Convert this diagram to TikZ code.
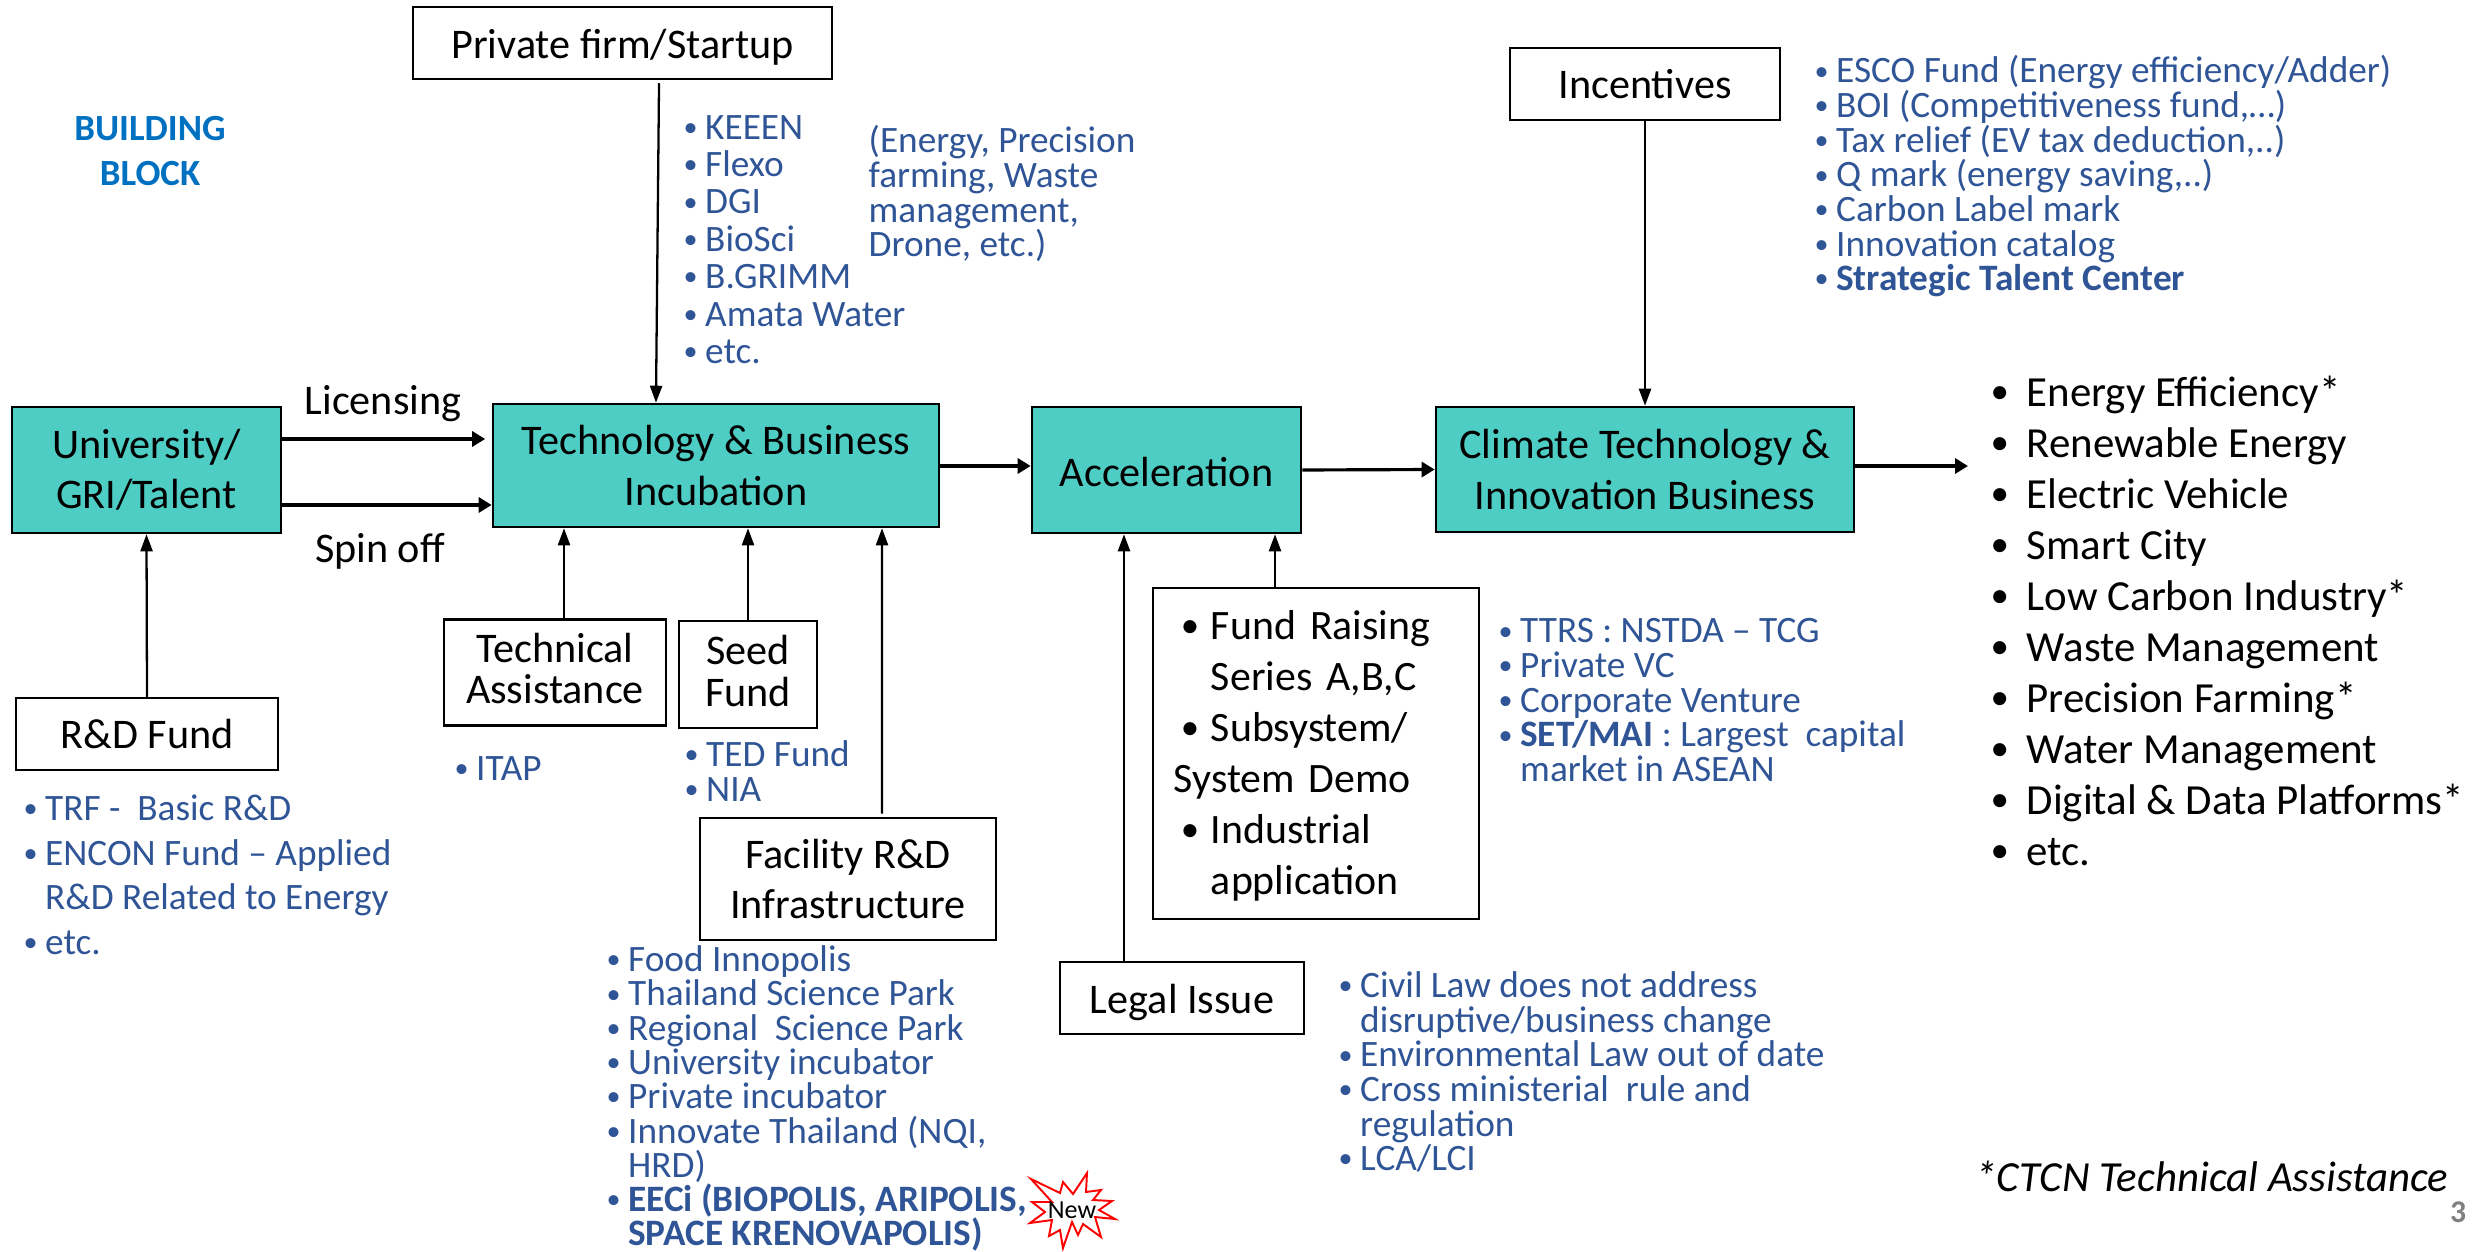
\documentclass[tikz,border=0pt]{standalone}
\usepackage{fontspec}
\setmainfont{Carlito}
\usetikzlibrary{arrows.meta}
\definecolor{ctteal}{RGB}{78,205,196}
\definecolor{ctblue}{RGB}{47,85,151}
\definecolor{cthead}{RGB}{0,112,192}
\newcommand{\itm}{\makebox[.215cm][l]{\raisebox{.8pt}{\fontsize{8}{8}\selectfont\textbullet}}}
\newcommand{\blkdot}{\raisebox{.7pt}{\fontsize{10.5}{10}\selectfont\textbullet}}
\newcommand{\blk}{\makebox[.36cm][l]{\blkdot}}
\newcommand{\fnd}{\hspace*{.07cm}\makebox[.3cm][l]{\blkdot}}
\tikzset{
  whitebox/.style={draw,line width=.7pt,align=center,inner sep=0pt,font=\fontsize{12}{14.3}\selectfont},
  tealbox/.style={whitebox,fill=ctteal},
  lowtext/.style={execute at begin node={\rule{0pt}{#1}}},
  bluelist/.style={anchor=north west,inner sep=0pt,align=left,text=ctblue,font=\fontsize{10.6}{9.85}\selectfont},
  blacklist/.style={anchor=north west,inner sep=0pt,align=left,font=\fontsize{12.2}{14.5}\selectfont},
  thinarr/.style={line width=.65pt,-{Triangle[length=.17cm,width=.12cm]}},
  thickarr/.style={line width=.9pt,-{Triangle[length=.13cm,width=.15cm]}},
}
\begin{document}
\begin{tikzpicture}[x=.01cm,y=-.01cm]
\useasboundingbox (0,0) rectangle (2476,1252);

% main row
\node[tealbox,lowtext=11.4pt,minimum width=2.69cm,minimum height=1.26cm] (uni) at (146.5,470) {University/\\GRI/Talent};
\node[tealbox,lowtext=10.4pt,minimum width=4.46cm,minimum height=1.23cm] (tbi) at (716,465.5) {Technology \& Business\\Incubation};
\node[tealbox,lowtext=9.7pt,minimum width=2.69cm,minimum height=1.26cm] (acc) at (1166.5,470) {Acceleration};
\node[tealbox,lowtext=10.4pt,minimum width=4.18cm,minimum height=1.25cm] (cli) at (1645,469.5) {Climate Technology \&\\Innovation Business};

% white boxes
\node[whitebox,lowtext=10.6pt,minimum width=4.19cm,minimum height=.72cm] (firm) at (622.5,43) {Private firm/Startup};
\node[whitebox,minimum width=2.7cm,minimum height=.72cm] (inc) at (1645,84) {Incentives};
\node[whitebox,minimum width=2.62cm,minimum height=.72cm] (rd) at (147,734) {R\&D Fund};
\node[whitebox,minimum width=2.22cm,minimum height=1.06cm,font=\fontsize{12}{11.7}\selectfont] (tech) at (555,672.5) {Technical\\Assistance\rule[-2.2pt]{0pt}{0pt}};
\node[whitebox,minimum width=1.38cm,minimum height=1.07cm,font=\fontsize{12}{11.8}\selectfont] (seed) at (748,674.5) {Seed\\Fund\rule[-2.2pt]{0pt}{0pt}};
\node[whitebox,lowtext=9.7pt,minimum width=2.96cm,minimum height=1.22cm] (fac) at (848,879) {Facility R\&D\\Infrastructure};
\node[whitebox,lowtext=10.6pt,minimum width=2.44cm,minimum height=.72cm] (legal) at (1182,998) {Legal Issue};
\node[whitebox,lowtext=9.7pt,minimum height=3.31cm,inner xsep=.21cm,text width=2.84cm,align=left,font=\fontsize{11.9}{14.5}\selectfont] (fund) at (1316,753.5) {%
\fnd Fund Raising\\
\hspace*{.37cm}Series A,B,C\\
\fnd Subsystem/\\
System Demo\\
\fnd Industrial\\
\hspace*{.37cm}application};

% arrows
\draw[thinarr] ([xshift=.365cm,yshift=-.03cm]firm.south) -- ([xshift=-.6cm]tbi.north);
\draw[thinarr] (inc.south) -- (cli.north);
\draw[thinarr] (rd.north) -- (uni.south);
\draw[thinarr] (tech.north -| 564,0) -- (tbi.south -| 564,0);
\draw[thinarr] (seed.north) -- (tbi.south -| seed.north);
\draw[thinarr] ([xshift=.34cm,yshift=.03cm]fac.north) -- (tbi.south -| 882,0);
\draw[thinarr] (legal.north -| 1124,0) -- (acc.south -| 1124,0);
\draw[thinarr] (fund.north -| 1275,0) -- (acc.south -| 1275,0);
\draw[thickarr] (uni.east |- 0,439) -- ([xshift=-.065cm]tbi.west |- 0,439);
\draw[thickarr] (uni.east |- 0,505) -- (tbi.west |- 0,505);
\draw[thickarr] (tbi.east |- 0,466) -- (acc.west |- 0,466);
\draw[thickarr] (acc.east) -- (cli.west);
\coordinate (out) at (1968,466);
\draw[thickarr] (cli.east |- out) -- (out);

% labels
\node[whitebox,draw=none,anchor=center] (lic) at (383,404) {Licensing};
\node[whitebox,draw=none,anchor=center] (spin) at (380,551) {Spin off};
\node[anchor=center,align=center,text=cthead,inner sep=0pt,font=\fontsize{10.5}{12.8}\selectfont\bfseries] (head) at (150,151) {BUILDING\\BLOCK};

% lists
\node[bluelist,font=\fontsize{10.6}{10.64}\selectfont] (firmlist) at (683,114.5) {\itm KEEEN\\\itm Flexo\\\itm DGI\\\itm BioSci\\\itm B.GRIMM\\\itm Amata Water\\\itm etc.};
\node[bluelist] (firmnote) at (868,125) {(Energy, Precision\\farming, Waste\\management,\\Drone, etc.)};
\node[bluelist] (inclist) at (1814,55) {\itm ESCO Fund (Energy efficiency/Adder)\\\itm BOI (Competitiveness fund,…)\\\itm Tax relief (EV tax deduction,..)\\\itm Q mark (energy saving,..)\\\itm Carbon Label mark\\\itm Innovation catalog\\\itm \textbf{Strategic Talent Center}};
\node[blacklist] (sectors) at (1990,375) {\blk Energy Efficiency*\\\blk Renewable Energy\\\blk Electric Vehicle\\\blk Smart City\\\blk Low Carbon Industry*\\\blk Waste Management\\\blk Precision Farming*\\\blk Water Management\\\blk Digital \& Data Platforms*\\\blk etc.};
\node[bluelist,font=\fontsize{10.6}{12.7}\selectfont] (rdlist) at (23,794) {\itm TRF -\ \ Basic R\&D\\\itm ENCON Fund – Applied\\\hspace*{.215cm}R\&D Related to Energy\\\itm etc.};
\node[bluelist] (techlist) at (454,756) {\itm ITAP};
\node[bluelist] (seedlist) at (684,740) {\itm TED Fund\\\itm NIA};
\node[bluelist,font=\fontsize{10.6}{9.75}\selectfont] (faclist) at (606,945) {\itm Food Innopolis\\\itm Thailand Science Park\\\itm Regional\ \ Science Park\\\itm University incubator\\\itm Private incubator\\\itm Innovate Thailand (NQI,\\\hspace*{.215cm}HRD)\\\itm \textbf{EECi (BIOPOLIS, ARIPOLIS,}\\\hspace*{.215cm}\textbf{SPACE KRENOVAPOLIS)}};
\node[bluelist] (legallist) at (1338,971) {\itm Civil Law does not address\\\hspace*{.215cm}disruptive/business change\\\itm Environmental Law out of date\\\itm Cross ministerial\ \ rule and\\\hspace*{.215cm}regulation\\\itm LCA/LCI};
\node[bluelist] (fundlist) at (1498,618) {\itm TTRS : NSTDA – TCG\\\itm Private VC\\\itm Corporate Venture\\\itm \textbf{SET/MAI} : Largest\ \ capital\\\hspace*{.215cm}market in ASEAN};
\node[blacklist,font=\fontsize{12.2}{14}\selectfont\itshape,anchor=center] (ctcn) at (2212,1176) {*CTCN Technical Assistance};
\node[anchor=center,inner sep=0pt,text=gray,font=\fontsize{9}{10}\selectfont\bfseries] (page) at (2458,1212) {3};

% new star
\draw[red,line width=.55pt,join=miter] (1031,1179)--(1060,1193)--(1063,1182)--(1073,1194)--(1087,1173)--(1086,1192)--(1101,1190)--(1093,1200)--(1112,1201)--(1099,1210)--(1115,1219)--(1095,1217)--(1101,1237)--(1083,1224)--(1078,1235)--(1072,1222)--(1063,1248)--(1060,1230)--(1049,1236)--(1052,1220)--(1030,1223)--(1045,1212)--(1032,1202)--(1052,1202)--cycle;
\node[inner sep=0pt,font=\fontsize{7.4}{8}\selectfont] (newtag) at (1072,1210) {New};
\end{tikzpicture}
\end{document}
